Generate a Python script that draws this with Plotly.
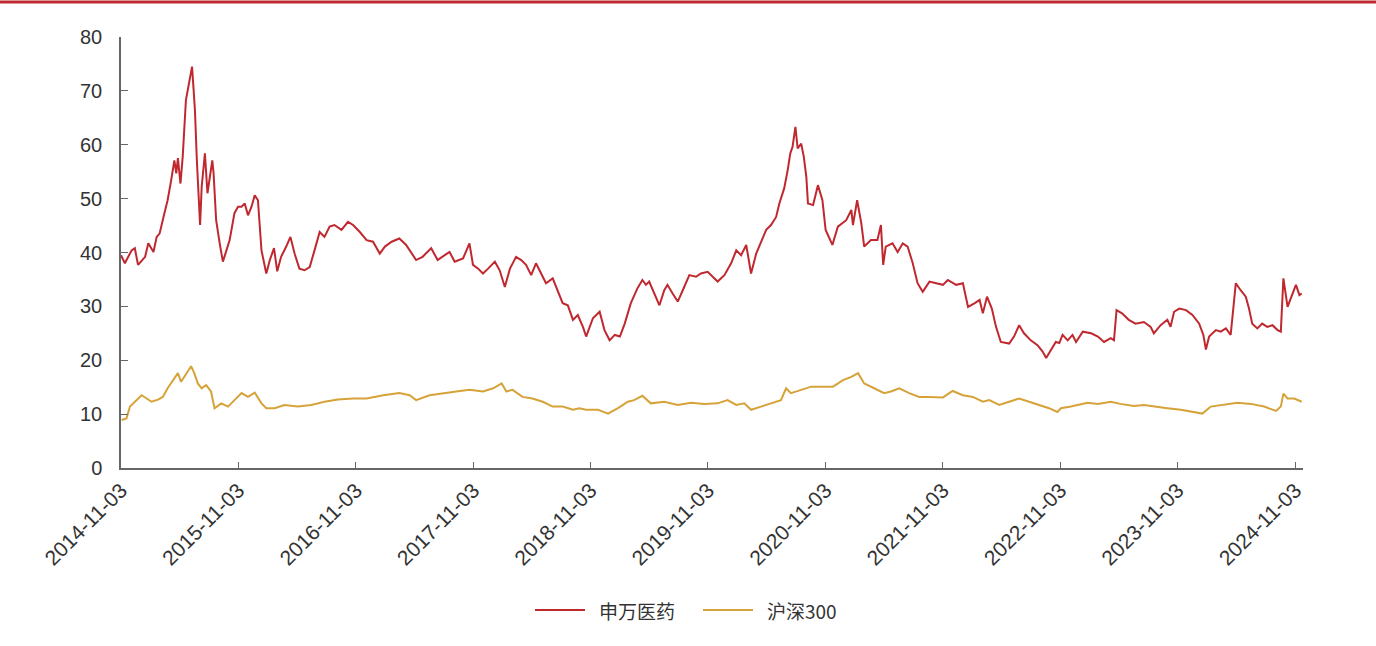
import plotly.graph_objects as go

# 申万医药 PE(TTM) readings
sw_dates = [
    "2014-11-03", "2014-11-15", "2014-12-06", "2014-12-16", "2014-12-26", "2015-01-17", "2015-01-27",
    "2015-02-12", "2015-02-22", "2015-03-03", "2015-03-18", "2015-03-28", "2015-04-08", "2015-04-18",
    "2015-04-24", "2015-04-29", "2015-05-07", "2015-05-14", "2015-05-24", "2015-06-04", "2015-06-12",
    "2015-06-17", "2015-06-21", "2015-06-27", "2015-07-07", "2015-07-12", "2015-07-22", "2015-07-30",
    "2015-08-14", "2015-08-18", "2015-08-26", "2015-09-06", "2015-09-16", "2015-09-27", "2015-10-07",
    "2015-10-22", "2015-11-02", "2015-11-13", "2015-11-23", "2015-12-03", "2015-12-14", "2015-12-24",
    "2016-01-03", "2016-01-14", "2016-01-29", "2016-02-09", "2016-02-22", "2016-03-03", "2016-03-15",
    "2016-03-31", "2016-04-13", "2016-04-26", "2016-05-11", "2016-05-27", "2016-06-12", "2016-06-27",
    "2016-07-13", "2016-07-28", "2016-08-13", "2016-08-28", "2016-09-19", "2016-10-09", "2016-10-25",
    "2016-11-15", "2016-12-06", "2016-12-26", "2017-01-16", "2017-02-01", "2017-02-22", "2017-03-18",
    "2017-04-08", "2017-05-09", "2017-05-29", "2017-06-25", "2017-07-15", "2017-08-06", "2017-08-21",
    "2017-09-06", "2017-10-02", "2017-10-22", "2017-11-02", "2017-11-18", "2017-12-03", "2017-12-19",
    "2018-01-09", "2018-01-24", "2018-02-09", "2018-02-25", "2018-03-16", "2018-04-01", "2018-04-16",
    "2018-05-02", "2018-05-17", "2018-06-02", "2018-06-17", "2018-07-08", "2018-07-23", "2018-08-08",
    "2018-08-24", "2018-09-09", "2018-09-24", "2018-10-10", "2018-10-20", "2018-11-10", "2018-12-01",
    "2018-12-16", "2019-01-01", "2019-01-17", "2019-02-02", "2019-02-17", "2019-03-08", "2019-03-28",
    "2019-04-13", "2019-04-24", "2019-05-04", "2019-05-19", "2019-06-05", "2019-06-20", "2019-06-30",
    "2019-07-16", "2019-08-01", "2019-08-21", "2019-09-06", "2019-09-27", "2019-10-12", "2019-11-02",
    "2019-11-18", "2019-12-03", "2019-12-24", "2020-01-14", "2020-01-30", "2020-02-14", "2020-03-01",
    "2020-03-16", "2020-04-01", "2020-04-16", "2020-05-02", "2020-05-17", "2020-06-02", "2020-06-12",
    "2020-06-27", "2020-07-08", "2020-07-16", "2020-07-23", "2020-08-01", "2020-08-08", "2020-08-19",
    "2020-08-27", "2020-09-04", "2020-09-09", "2020-09-25", "2020-10-10", "2020-10-24", "2020-11-03",
    "2020-11-24", "2020-12-11", "2021-01-06", "2021-01-22", "2021-01-27", "2021-02-09", "2021-02-22",
    "2021-03-03", "2021-03-24", "2021-04-13", "2021-04-24", "2021-05-01", "2021-05-09", "2021-05-30",
    "2021-06-15", "2021-07-01", "2021-07-16", "2021-08-01", "2021-08-16", "2021-09-01", "2021-09-22",
    "2021-10-13", "2021-11-03", "2021-11-18", "2021-12-14", "2022-01-04", "2022-01-20", "2022-02-10",
    "2022-02-25", "2022-03-07", "2022-03-20", "2022-04-04", "2022-04-17", "2022-05-02", "2022-05-28",
    "2022-06-12", "2022-06-28", "2022-07-13", "2022-08-03", "2022-08-24", "2022-09-09", "2022-09-20",
    "2022-10-05", "2022-10-20", "2022-10-31", "2022-11-10", "2022-11-26", "2022-12-11", "2022-12-22",
    "2023-01-12", "2023-02-07", "2023-02-28", "2023-03-19", "2023-04-09", "2023-04-19", "2023-04-27",
    "2023-05-14", "2023-06-04", "2023-06-25", "2023-07-21", "2023-08-11", "2023-08-21", "2023-09-11",
    "2023-10-02", "2023-10-12", "2023-10-23", "2023-11-08", "2023-11-29", "2023-12-19", "2024-01-09",
    "2024-01-22", "2024-01-30", "2024-02-09", "2024-03-01", "2024-03-16", "2024-04-01", "2024-04-16",
    "2024-05-02", "2024-05-17", "2024-06-02", "2024-06-12", "2024-06-22", "2024-07-08", "2024-07-23",
    "2024-08-08", "2024-08-24", "2024-09-09", "2024-09-19", "2024-09-27", "2024-10-10", "2024-10-20",
    "2024-11-05", "2024-11-16", "2024-11-23",
]
sw_pe = [
    39.5, 38.0, 40.4, 40.8, 37.7, 39.2, 41.7,
    40.1, 42.9, 43.5, 47.3, 49.7, 53.4, 57.1,
    54.7, 57.5, 52.8, 57.8, 68.3, 72.0, 74.5,
    70.1, 66.4, 57.1, 45.1, 52.2, 58.4, 51.0,
    57.1, 54.7, 46.0, 41.7, 38.3, 40.4, 42.3,
    47.3, 48.5, 48.5, 49.1, 46.9, 48.5, 50.6,
    49.7, 40.4, 36.1, 38.6, 40.8, 36.5, 39.2,
    41.1, 42.9, 39.8, 37.0, 36.7, 37.3, 40.4,
    43.8, 42.9, 44.8, 45.1, 44.2, 45.7, 45.1,
    43.8, 42.3, 42.0, 39.8, 41.1, 42.0, 42.6,
    41.4, 38.6, 39.2, 40.8, 38.6, 39.5, 40.1,
    38.3, 38.9, 41.7, 37.7, 37.0, 36.1, 37.0,
    38.3, 36.7, 33.6, 37.0, 39.2, 38.6, 37.7,
    35.8, 38.0, 36.1, 34.3, 35.2, 33.0, 30.6,
    30.2, 27.5, 28.4, 26.2, 24.4, 27.8, 29.0,
    25.6, 23.7, 24.7, 24.4, 26.8, 30.6, 33.3,
    34.9, 34.0, 34.6, 32.4, 30.2, 33.0, 34.0,
    32.4, 30.9, 33.6, 35.8, 35.5, 36.1, 36.4,
    35.5, 34.6, 35.8, 38.0, 40.4, 39.5, 41.4,
    36.1, 39.8, 42.0, 44.2, 45.1, 46.6, 49.1,
    51.9, 55.3, 58.4, 59.6, 63.3, 59.3, 60.2,
    57.8, 54.0, 49.1, 48.8, 52.5, 49.7, 44.2,
    41.4, 44.8, 46.0, 47.9, 45.1, 49.7, 45.4,
    41.1, 42.3, 42.3, 45.1, 37.7, 41.1, 41.7,
    40.1, 41.7, 41.1, 38.0, 34.3, 32.7, 34.6,
    34.3, 34.0, 34.9, 34.0, 34.3, 29.9, 30.6,
    31.2, 28.7, 31.8, 29.6, 26.2, 23.4, 23.1,
    24.4, 26.5, 25.0, 23.7, 22.8, 21.6, 20.4,
    21.9, 23.4, 23.2, 24.7, 23.7, 24.7, 23.4,
    25.3, 25.0, 24.4, 23.4, 24.1, 23.7, 29.3,
    28.7, 27.5, 26.8, 27.1, 26.2, 25.0, 26.5,
    27.5, 26.2, 29.0, 29.6, 29.3, 28.4, 26.8,
    24.7, 22.0, 24.4, 25.6, 25.3, 25.9, 24.7,
    34.3, 33.0, 31.8, 29.6, 26.8, 25.9, 26.8,
    26.2, 26.5, 25.6, 25.3, 35.2, 29.9, 31.5,
    34.0, 32.1, 32.4,
]

# 沪深300 PE(TTM) readings
hs_dates = [
    "2014-11-05", "2014-11-20", "2014-12-01", "2014-12-16", "2015-01-06", "2015-01-22", "2015-02-06",
    "2015-02-26", "2015-03-13", "2015-03-28", "2015-04-13", "2015-04-29", "2015-05-09", "2015-05-24",
    "2015-06-09", "2015-06-19", "2015-06-30", "2015-07-12", "2015-07-26", "2015-08-10", "2015-08-21",
    "2015-09-11", "2015-10-02", "2015-10-22", "2015-11-13", "2015-12-03", "2015-12-24", "2016-01-14",
    "2016-01-29", "2016-02-24", "2016-03-25", "2016-05-06", "2016-06-17", "2016-07-28", "2016-09-08",
    "2016-10-25", "2016-12-06", "2017-01-27", "2017-03-18", "2017-04-19", "2017-05-09", "2017-06-20",
    "2017-07-31", "2017-09-11", "2017-10-22", "2017-12-03", "2018-01-04", "2018-01-30", "2018-02-14",
    "2018-03-05", "2018-04-05", "2018-05-06", "2018-06-07", "2018-07-08", "2018-08-08", "2018-09-09",
    "2018-09-29", "2018-10-20", "2018-11-26", "2018-12-27", "2019-01-27", "2019-02-27", "2019-03-18",
    "2019-04-13", "2019-05-09", "2019-06-20", "2019-08-01", "2019-09-11", "2019-10-22", "2019-12-03",
    "2020-01-03", "2020-01-30", "2020-02-24", "2020-03-16", "2020-04-16", "2020-05-17", "2020-06-17",
    "2020-07-03", "2020-07-18", "2020-08-19", "2020-09-19", "2020-10-15", "2020-11-26", "2020-12-27",
    "2021-01-22", "2021-02-12", "2021-03-03", "2021-04-03", "2021-05-04", "2021-05-25", "2021-06-20",
    "2021-07-21", "2021-08-21", "2021-09-22", "2021-11-03", "2021-12-03", "2022-01-04", "2022-02-04",
    "2022-03-07", "2022-03-27", "2022-04-27", "2022-05-28", "2022-06-28", "2022-07-29", "2022-08-29",
    "2022-09-29", "2022-10-25", "2022-11-05", "2022-12-06", "2023-01-06", "2023-01-27", "2023-02-28",
    "2023-04-09", "2023-05-09", "2023-06-20", "2023-07-21", "2023-08-21", "2023-10-02", "2023-11-13",
    "2023-12-24", "2024-01-19", "2024-02-14", "2024-03-26", "2024-05-07", "2024-06-18", "2024-07-29",
    "2024-09-04", "2024-09-19", "2024-09-27", "2024-10-10", "2024-10-31", "2024-11-23",
]
hs_pe = [
    8.9, 9.2, 11.4, 12.3, 13.5, 12.9, 12.3,
    12.7, 13.2, 14.8, 16.3, 17.6, 16.0, 17.3,
    18.9, 17.6, 15.7, 14.8, 15.4, 14.2, 11.1,
    12.0, 11.4, 12.6, 13.9, 13.2, 14.0, 12.0,
    11.1, 11.1, 11.7, 11.4, 11.7, 12.3, 12.7,
    12.9, 12.9, 13.5, 13.9, 13.5, 12.6, 13.5,
    13.9, 14.2, 14.5, 14.2, 14.8, 15.7, 14.2,
    14.5, 13.2, 12.9, 12.3, 11.4, 11.4, 10.8,
    11.1, 10.8, 10.8, 10.1, 11.1, 12.3, 12.6,
    13.4, 12.0, 12.3, 11.7, 12.1, 11.9, 12.0,
    12.6, 11.7, 12.0, 10.8, 11.4, 12.0, 12.6,
    14.8, 13.9, 14.5, 15.1, 15.1, 15.1, 16.3,
    16.9, 17.6, 15.7, 14.8, 13.9, 14.2, 14.8,
    13.9, 13.2, 13.2, 13.1, 14.3, 13.5, 13.2,
    12.3, 12.6, 11.7, 12.3, 12.9, 12.3, 11.7,
    11.1, 10.4, 11.1, 11.4, 11.9, 12.1, 11.9,
    12.3, 11.9, 11.5, 11.7, 11.4, 11.1, 10.8,
    10.4, 10.1, 11.4, 11.7, 12.1, 11.9, 11.4,
    10.6, 11.4, 13.8, 12.9, 12.9, 12.3,
]

tick_dates = [f"{y}-11-03" for y in range(2014, 2025)]
series_names = ["申万医药", "沪深300"]

RED = "#c0282f"
GOLD = "#d6a23a"
AXIS = "#666666"
TEXT = "#333333"
LATIN = "Liberation Sans, Arial, sans-serif"
CJK = "Noto Sans CJK SC, " + LATIN

# plot-area geometry (pixels) used to place the legend and the top rule in paper space
L, R, T, B = 121, 73, 37, 178
W, H = 1376, 646
PW, PH = W - L - R, H - T - B


def px(x):
    return (x - L) / PW


def py(y):
    return (H - B - y) / PH


fig = go.Figure()
fig.add_trace(go.Scatter(
    x=sw_dates, y=sw_pe, mode="lines", name=series_names[0],
    line=dict(color=RED, width=2),
))
fig.add_trace(go.Scatter(
    x=hs_dates, y=hs_pe, mode="lines", name=series_names[1],
    line=dict(color=GOLD, width=2),
))

# legend drawn as line samples + labels below the axis
legend_items = [(series_names[0], RED, 535), (series_names[1], GOLD, 703)]
shapes = [dict(
    type="line", xref="paper", yref="paper",
    x0=px(0), x1=px(W), y0=py(2), y1=py(2),
    line=dict(color=RED, width=3),
)]
annotations = []
for name, color, x0 in legend_items:
    shapes.append(dict(
        type="line", xref="paper", yref="paper",
        x0=px(x0), x1=px(x0 + 50), y0=py(610), y1=py(610),
        line=dict(color=color, width=2),
    ))
    annotations.append(dict(
        text=name, xref="paper", yref="paper", x=px(x0 + 62), y=py(610),
        xanchor="left", yanchor="middle", showarrow=False,
        font=dict(family=CJK, size=19, color=TEXT),
    ))

fig.update_layout(
    width=W, height=H,
    margin=dict(l=L, r=R, t=T, b=B),
    paper_bgcolor="white", plot_bgcolor="white",
    showlegend=False,
    xaxis=dict(
        type="date", range=["2014-11-03", "2024-11-27"],
        tickvals=tick_dates, ticktext=tick_dates, tickangle=-45,
        ticks="inside", ticklen=6, tickcolor=AXIS,
        showline=True, linecolor=AXIS, linewidth=1.5,
        showgrid=False, zeroline=False,
        tickfont=dict(family=LATIN, size=21, color=TEXT),
    ),
    yaxis=dict(
        range=[0, 80], tickvals=list(range(0, 81, 10)),
        ticks="inside", ticklen=7, tickcolor=AXIS,
        showline=True, linecolor=AXIS, linewidth=1.5,
        showgrid=False, zeroline=False,
        ticklabelstandoff=13,
        tickfont=dict(family=LATIN, size=20, color=TEXT),
    ),
    shapes=shapes,
    annotations=annotations,
)

fig.write_html("out.html")
